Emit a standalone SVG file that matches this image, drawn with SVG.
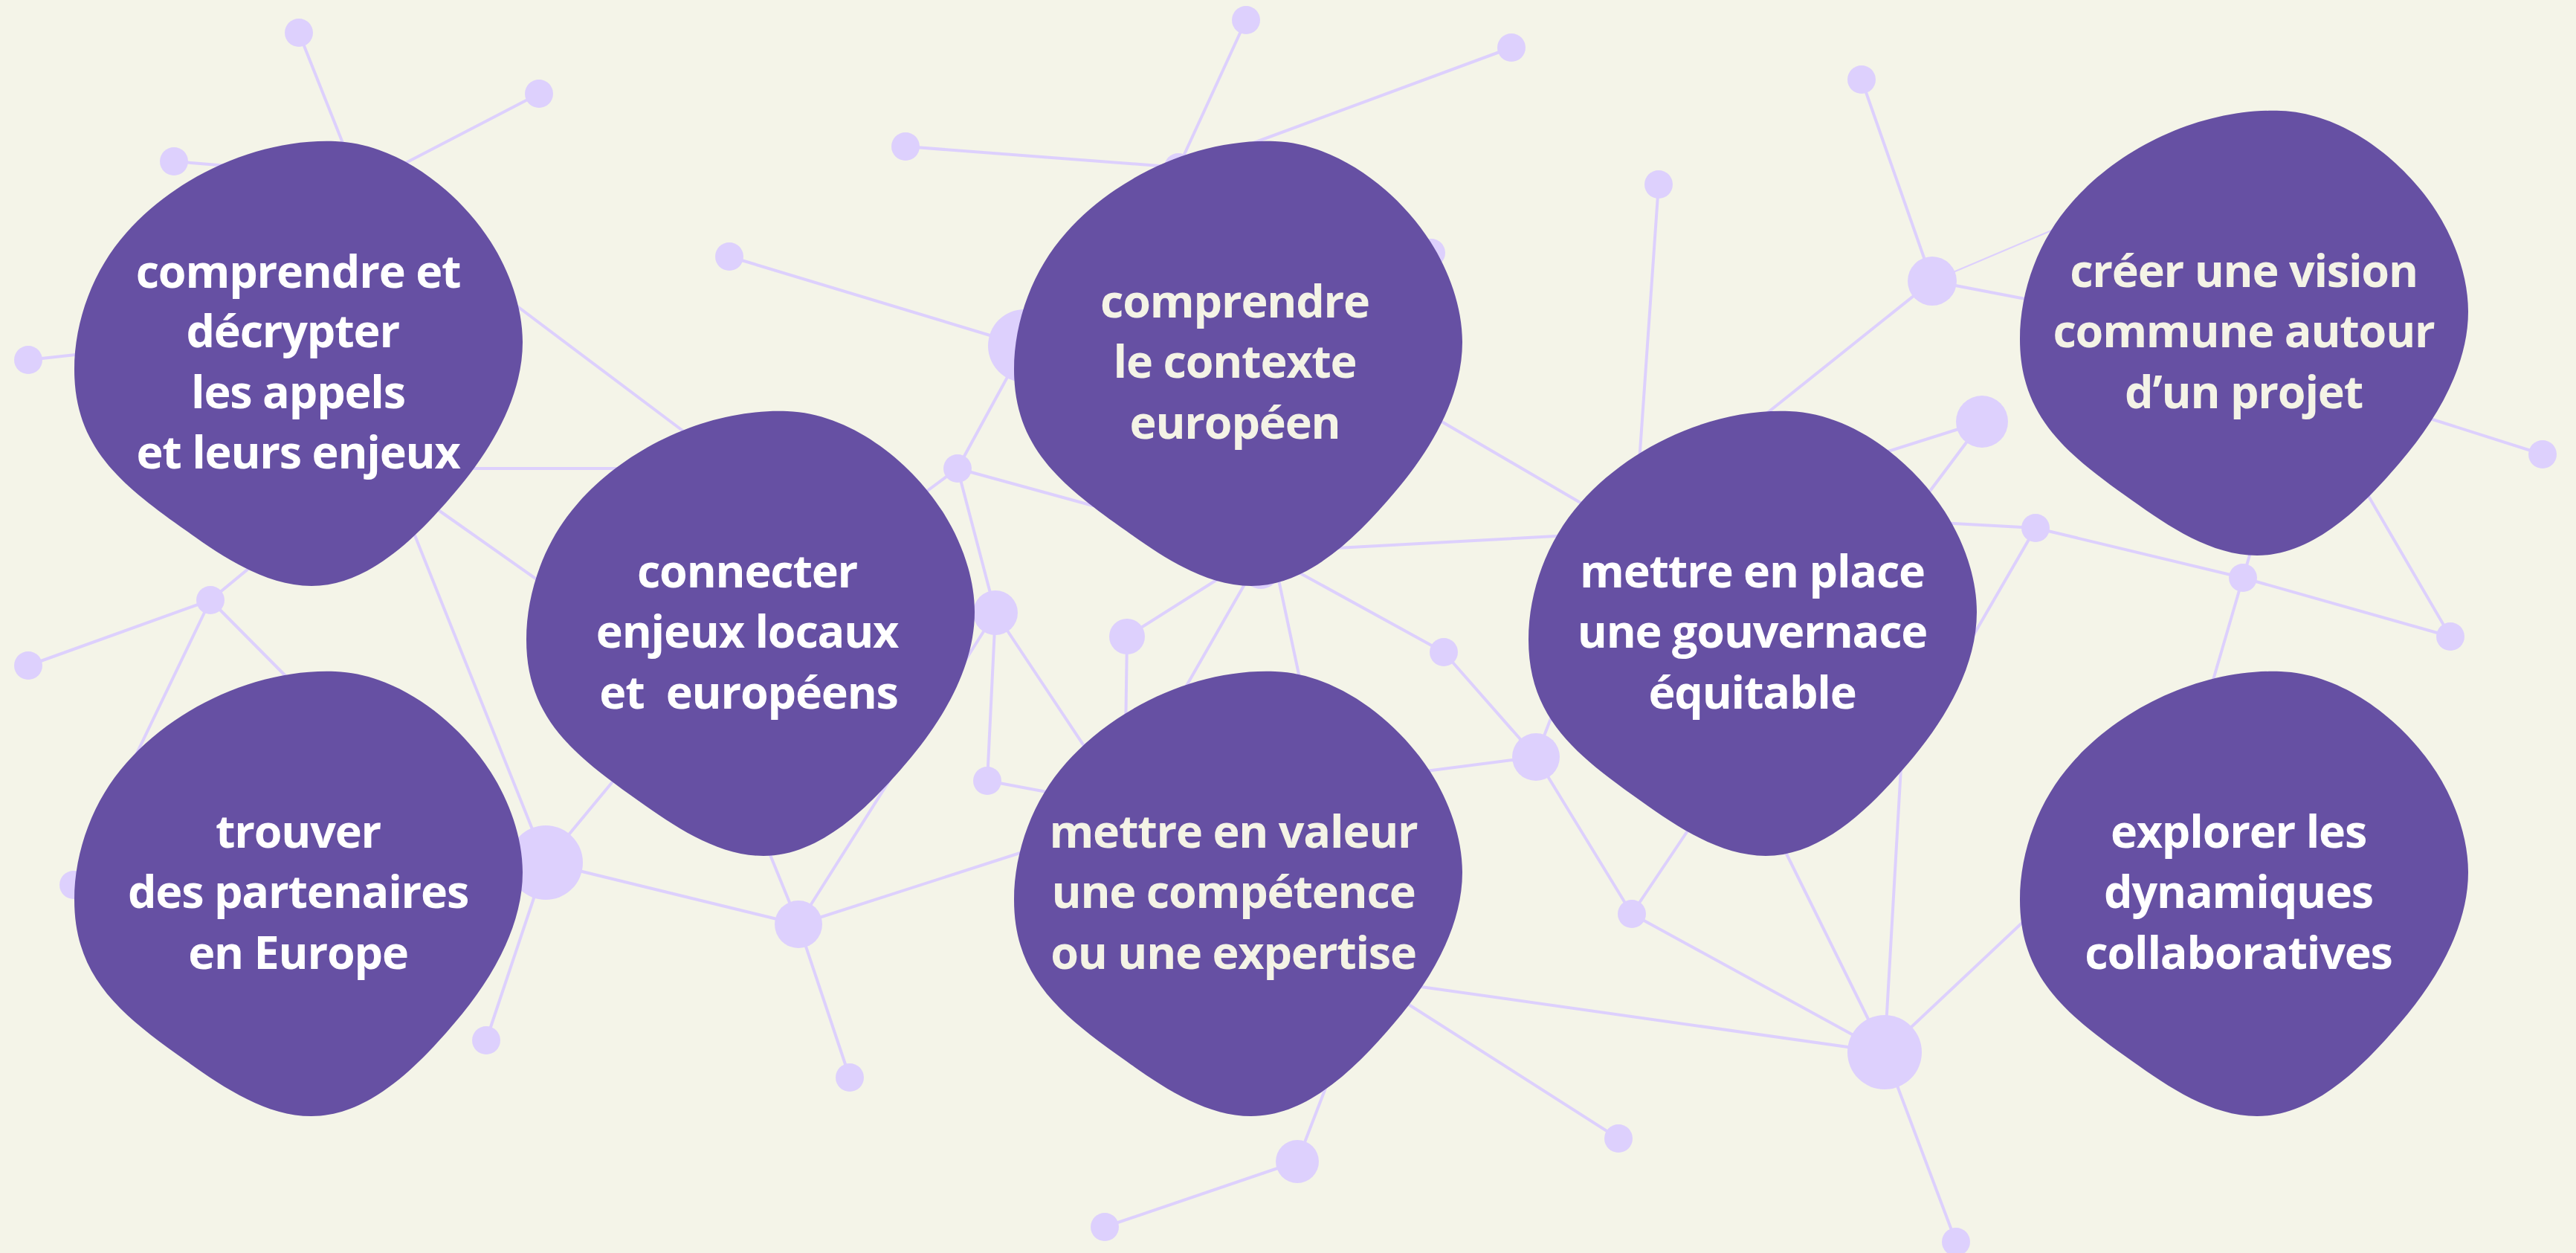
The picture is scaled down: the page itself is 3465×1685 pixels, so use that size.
<svg xmlns="http://www.w3.org/2000/svg" xmlns:xlink="http://www.w3.org/1999/xlink" width="3465" height="1685" viewBox="0 0 3465 1685">
<style>
.bg{fill:#f4f4e8}
.blob{fill:#6650a3}
.lbl{font-family:"Open Sans","Noto Sans","Liberation Sans",sans-serif;font-weight:700;font-size:61px;letter-spacing:-1.2px;text-anchor:middle;fill:#ffffff}
.cream{fill:#f4f3e6}
.ln line{stroke:#ddd0fd;stroke-width:4;stroke-linecap:round}
.ln line.faint{stroke-width:2}
.dot{fill:#ddd0fd}
</style>
<defs>
<path id="blob" d="M352,0 C435,3 516,65 561,135 C586,174 604,223 604,270 C604,344 561,416 513,472 C463,531 397,598 320,598 C259,598 201,559 152,524 C66,463 1,413 1,307 C1,241 27,172 71,123 C139,46 250,-4 352,0 Z"/>
</defs>
<rect class="bg" x="0" y="0" width="3465" height="1685"/>
<g id="connectors" class="ln">
<line x1="402" y1="44" x2="480" y2="240"/>
<line x1="725" y1="126" x2="540" y2="222"/>
<line x1="234" y1="217" x2="330" y2="225"/>
<line x1="38" y1="484" x2="120" y2="475"/>
<line x1="680" y1="400" x2="950" y2="603"/>
<line x1="600" y1="630" x2="880" y2="630"/>
<line x1="560" y1="665" x2="760" y2="806"/>
<line x1="540" y1="675" x2="734" y2="1160"/>
<line x1="283" y1="807" x2="340" y2="760"/>
<line x1="283" y1="807" x2="38" y2="895"/>
<line x1="283" y1="807" x2="99" y2="1190"/>
<line x1="283" y1="807" x2="400" y2="925"/>
<line x1="981" y1="345" x2="1378" y2="465"/>
<line x1="734" y1="1160" x2="835" y2="1038"/>
<line x1="734" y1="1160" x2="1074" y2="1243"/>
<line x1="734" y1="1160" x2="654" y2="1399"/>
<line x1="1074" y1="1243" x2="1030" y2="1135"/>
<line x1="1074" y1="1243" x2="1339" y2="824"/>
<line x1="1074" y1="1243" x2="1400" y2="1138"/>
<line x1="1074" y1="1243" x2="1143" y2="1449"/>
<line x1="1339" y1="824" x2="1328" y2="1050"/>
<line x1="1339" y1="824" x2="1480" y2="1036"/>
<line x1="1328" y1="1050" x2="1440" y2="1071"/>
<line x1="1516" y1="856" x2="1514" y2="990"/>
<line x1="1660" y1="765" x2="1516" y2="856"/>
<line x1="1690" y1="758" x2="1580" y2="950"/>
<line x1="1714" y1="752" x2="1752" y2="930"/>
<line x1="1720" y1="755" x2="1942" y2="877"/>
<line x1="1942" y1="877" x2="2066" y2="1018"/>
<line x1="2066" y1="1018" x2="1910" y2="1038"/>
<line x1="2066" y1="1018" x2="2100" y2="930"/>
<line x1="2066" y1="1018" x2="2195" y2="1229"/>
<line x1="2195" y1="1229" x2="2285" y2="1095"/>
<line x1="2195" y1="1229" x2="2535" y2="1415"/>
<line x1="1890" y1="1324" x2="2535" y2="1415"/>
<line x1="1870" y1="1335" x2="2177" y2="1531"/>
<line x1="1745" y1="1562" x2="1792" y2="1440"/>
<line x1="1745" y1="1562" x2="1486" y2="1650"/>
<line x1="2560" y1="980" x2="2535" y2="1415"/>
<line x1="2390" y1="1122" x2="2535" y2="1415"/>
<line x1="2535" y1="1415" x2="2740" y2="1222"/>
<line x1="2535" y1="1415" x2="2631" y2="1670"/>
<line x1="1676" y1="27" x2="1585" y2="225"/>
<line x1="2033" y1="64" x2="1670" y2="198"/>
<line x1="1218" y1="197" x2="1585" y2="225"/>
<line x1="2231" y1="248" x2="2203" y2="650"/>
<line x1="1378" y1="465" x2="1288" y2="630"/>
<line x1="1288" y1="630" x2="1470" y2="680"/>
<line x1="1288" y1="630" x2="1238" y2="667"/>
<line x1="1288" y1="630" x2="1339" y2="824"/>
<line x1="1900" y1="544" x2="2160" y2="696"/>
<line x1="1780" y1="738" x2="2130" y2="719"/>
<line x1="2504" y1="107" x2="2599" y2="378"/>
<line class="faint" x1="2599" y1="378" x2="2790" y2="297"/>
<line x1="2599" y1="378" x2="2740" y2="405"/>
<line x1="2599" y1="378" x2="2365" y2="565"/>
<line x1="2666" y1="567" x2="2530" y2="610"/>
<line x1="2666" y1="567" x2="2585" y2="675"/>
<line x1="2610" y1="703" x2="2738" y2="710"/>
<line x1="2738" y1="710" x2="2635" y2="888"/>
<line x1="2738" y1="710" x2="3017" y2="777"/>
<line x1="3017" y1="777" x2="3028" y2="740"/>
<line x1="3017" y1="777" x2="2968" y2="945"/>
<line x1="3017" y1="777" x2="3296" y2="856"/>
<line x1="3180" y1="657" x2="3296" y2="856"/>
<line x1="3250" y1="557" x2="3420" y2="611"/>
</g>
<g id="dots" class="dot">
<circle cx="402" cy="44" r="19"/>
<circle cx="725" cy="126" r="19"/>
<circle cx="234" cy="217" r="19"/>
<circle cx="38" cy="484" r="19"/>
<circle cx="283" cy="807" r="19"/>
<circle cx="38" cy="895" r="19"/>
<circle cx="734" cy="1160" r="50"/>
<circle cx="654" cy="1399" r="19"/>
<circle cx="1074" cy="1243" r="32"/>
<circle cx="1143" cy="1449" r="19"/>
<circle cx="981" cy="345" r="19"/>
<circle cx="1218" cy="197" r="19"/>
<circle cx="1676" cy="27" r="19"/>
<circle cx="2033" cy="64" r="19"/>
<circle cx="1378" cy="465" r="49"/>
<circle cx="1288" cy="630" r="19"/>
<circle cx="1339" cy="824" r="30"/>
<circle cx="1328" cy="1050" r="19"/>
<circle cx="1516" cy="856" r="24"/>
<circle cx="1942" cy="877" r="19"/>
<circle cx="2066" cy="1018" r="32"/>
<circle cx="2195" cy="1229" r="19"/>
<circle cx="2535" cy="1415" r="50"/>
<circle cx="2631" cy="1670" r="19"/>
<circle cx="2177" cy="1531" r="19"/>
<circle cx="1745" cy="1562" r="29"/>
<circle cx="1486" cy="1650" r="19"/>
<circle cx="2231" cy="248" r="19"/>
<circle cx="2504" cy="107" r="19"/>
<circle cx="2599" cy="378" r="33"/>
<circle cx="2666" cy="567" r="35"/>
<circle cx="2738" cy="710" r="19"/>
<circle cx="3017" cy="777" r="19"/>
<circle cx="3296" cy="856" r="19"/>
<circle cx="3420" cy="611" r="19"/>
<circle cx="99" cy="1190" r="19"/>
<circle cx="1585" cy="225" r="19"/>
<circle cx="1696" cy="767" r="25"/>
<circle cx="1925" cy="340" r="19"/>
</g>
<g id="node-comprendre-decrypter">
<use href="#blob" class="blob" x="99" y="190"/>
<text class="lbl" xml:space="preserve"><tspan x="401" y="387">comprendre et</tspan><tspan x="401" y="467">décrypter </tspan><tspan x="401" y="549">les appels</tspan><tspan x="401" y="630">et leurs enjeux</tspan></text>
</g>
<g id="node-contexte-europeen">
<use href="#blob" class="blob" x="1363" y="190"/>
<text class="lbl cream"><tspan x="1661" y="427">comprendre</tspan><tspan x="1661" y="508">le contexte</tspan><tspan x="1661" y="590">européen</tspan></text>
</g>
<g id="node-vision-commune">
<use href="#blob" class="blob" x="2716" y="149"/>
<text class="lbl cream"><tspan x="3018" y="386">créer une vision</tspan><tspan x="3018" y="467">commune autour</tspan><tspan x="3018" y="549">d’un projet</tspan></text>
</g>
<g id="node-connecter">
<use href="#blob" class="blob" x="707" y="553"/>
<text class="lbl" xml:space="preserve"><tspan x="1005" y="790">connecter</tspan><tspan x="1005" y="871">enjeux locaux</tspan><tspan x="1007" y="953">et  européens</tspan></text>
</g>
<g id="node-gouvernance">
<use href="#blob" class="blob" x="2055" y="553"/>
<text class="lbl"><tspan x="2357" y="790">mettre en place</tspan><tspan x="2357" y="871">une gouvernace</tspan><tspan x="2357" y="953">équitable</tspan></text>
</g>
<g id="node-partenaires">
<use href="#blob" class="blob" x="99" y="903"/>
<text class="lbl"><tspan x="401" y="1140">trouver</tspan><tspan x="401" y="1221">des partenaires</tspan><tspan x="401" y="1303">en Europe</tspan></text>
</g>
<g id="node-competence">
<use href="#blob" class="blob" x="1363" y="903"/>
<text class="lbl cream"><tspan x="1659" y="1140">mettre en valeur</tspan><tspan x="1659" y="1221">une compétence</tspan><tspan x="1659" y="1303">ou une expertise</tspan></text>
</g>
<g id="node-dynamiques">
<use href="#blob" class="blob" x="2716" y="903"/>
<text class="lbl"><tspan x="3011" y="1140">explorer les</tspan><tspan x="3011" y="1221">dynamiques</tspan><tspan x="3011" y="1303">collaboratives</tspan></text>
</g>
</svg>
